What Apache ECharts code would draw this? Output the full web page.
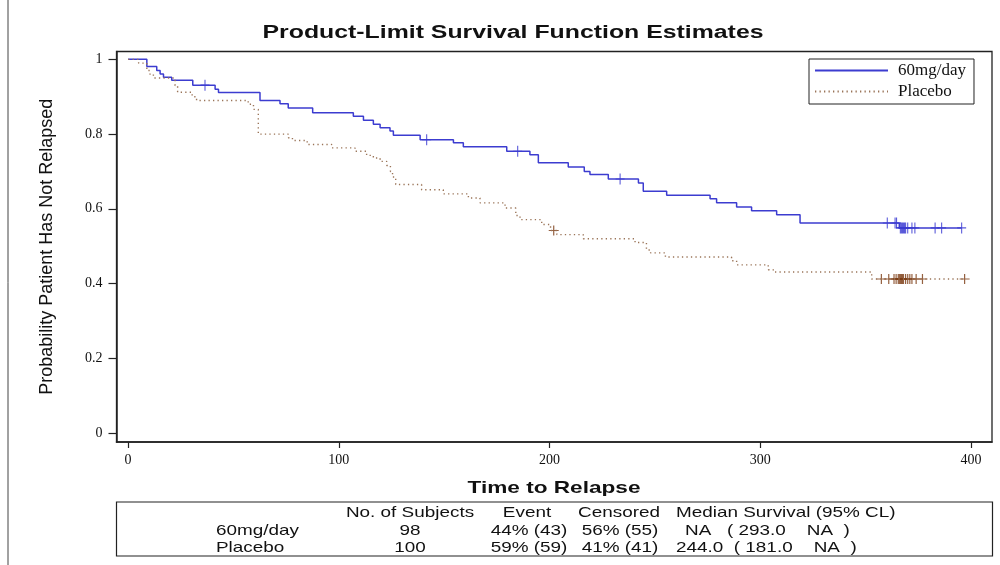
<!DOCTYPE html>
<html>
<head>
<meta charset="utf-8">
<script src="https://cdn.jsdelivr.net/npm/echarts@6/dist/echarts.min.js"></script>
<style>
html,body{margin:0;padding:0;background:#fff;}
#chart{width:1000px;height:565px;}
</style>
</head>
<body>
<div id="chart"></div>
<script>
// ---- data ----
const groupNames = ['60mg/day', 'Placebo'];
// 60mg/day step curve (time, survival after event)
const trtTime = [0, 8.9, 13.6, 15.2, 16.8, 20.7, 30.7, 41.3, 42.9, 62.6, 72.1, 76.0, 87.6, 106.9, 111.7, 116.4, 119.6, 124.3, 125.9, 138.6, 154.4, 159.1, 179.7, 190.7, 194.7, 208.9, 216.5, 219.2, 227.9, 242.2, 244.5, 255.6, 276.2, 279.3, 288.8, 295.9, 307.8, 318.9, 366.0, 395.6];
const trtSurv = [1, 0.981, 0.970, 0.961, 0.952, 0.944, 0.931, 0.920, 0.911, 0.890, 0.881, 0.870, 0.857, 0.848, 0.837, 0.826, 0.817, 0.808, 0.797, 0.785, 0.777, 0.766, 0.754, 0.745, 0.723, 0.712, 0.700, 0.692, 0.680, 0.669, 0.647, 0.636, 0.627, 0.616, 0.605, 0.595, 0.584, 0.562, 0.549, 0.549];
// 60mg/day censored observations
const trtCensTime = [36.5, 141.7, 184.9, 233.5, 360.3, 364.0, 364.7, 366.5, 367.0, 367.5, 368.0, 368.5, 369.0, 370.0, 372.0, 373.4, 383.0, 386.1, 395.6];
const trtCensSurv = [0.931, 0.785, 0.754, 0.680, 0.562, 0.562, 0.562, 0.549, 0.549, 0.549, 0.549, 0.549, 0.549, 0.549, 0.549, 0.549, 0.549, 0.549, 0.549];
// Placebo step curve
const pboTime = [0, 5.0, 8.9, 10.4, 12.0, 22.3, 23.5, 30.4, 32.5, 57.0, 59.5, 61.8, 76.0, 78.0, 85.0, 96.6, 107.7, 113.2, 116.4, 119.6, 122.7, 124.5, 125.5, 127.0, 139.3, 149.6, 161.5, 167.0, 178.9, 184.0, 186.0, 196.3, 200.5, 203.5, 216.0, 240.6, 246.0, 248.0, 255.0, 286.4, 288.8, 303.8, 306.2, 352.9, 397.0];
const pboSurv = [1, 0.990, 0.970, 0.960, 0.950, 0.930, 0.912, 0.900, 0.890, 0.880, 0.866, 0.800, 0.790, 0.783, 0.772, 0.763, 0.754, 0.743, 0.736, 0.727, 0.716, 0.700, 0.685, 0.665, 0.651, 0.640, 0.629, 0.616, 0.602, 0.582, 0.571, 0.558, 0.542, 0.531, 0.520, 0.510, 0.490, 0.482, 0.471, 0.461, 0.450, 0.437, 0.431, 0.412, 0.412];
// Placebo censored observations
const pboCensTime = [202.0, 357.5, 361.0, 363.5, 364.5, 365.5, 366.0, 366.5, 367.0, 367.5, 368.0, 369.0, 370.0, 371.0, 372.0, 374.0, 377.0, 397.0];
const pboCensSurv = [0.542, 0.412, 0.412, 0.412, 0.412, 0.412, 0.412, 0.412, 0.412, 0.412, 0.412, 0.412, 0.412, 0.412, 0.412, 0.412, 0.412, 0.412];
// axis ticks
const xTicks = [0, 100, 200, 300, 400];
const yTicks = [0, 0.2, 0.4, 0.6, 0.8, 1];
// text
const chartTitle = 'Product-Limit Survival Function Estimates';
const xTitle = 'Time to Relapse';
const yTitle = 'Probability Patient Has Not Relapsed';
// summary table
const tableHeader = ['No. of Subjects', 'Event', 'Censored', 'Median Survival (95% CL)'];
const tableRowLabels = ['60mg/day', 'Placebo'];
const tableSubjects = ['98', '100'];
const tableEvent = ['44% (43)', '59% (59)'];
const tableCensored = ['56% (55)', '41% (41)'];
const tableMedian = ['NA   ( 293.0    NA  )', '244.0  ( 181.0    NA  )'];

const pairs = (a, b) => a.map((v, i) => [v, b[i]]);
const plusPath = 'path://M-0.12,-1 L0.12,-1 L0.12,-0.1 L1,-0.1 L1,0.1 L0.12,0.1 L0.12,1 L-0.12,1 L-0.12,0.1 L-1,0.1 L-1,-0.1 L-0.12,-0.1 Z';

const chart = echarts.init(document.getElementById('chart'), null, {renderer: 'canvas'});

const sans = 'Liberation Sans, Arial, sans-serif';
const serif = 'Liberation Serif, Times New Roman, serif';

function txt(x, y, s, font, align, sx) {
  return {type: 'text', x: x, y: y, scaleX: sx || 1,
    style: {text: s, fill: '#111', font: font, textAlign: align || 'left', textVerticalAlign: 'middle'}};
}

const graphics = [
  {type: 'line', shape: {x1: 8, y1: 0, x2: 8, y2: 565}, style: {stroke: '#444', lineWidth: 1}},
  txt(513, 33, chartTitle, 'bold 18px ' + sans, 'center', 1.38),
  txt(554, 488, xTitle, 'bold 17px ' + sans, 'center', 1.33),
  {type: 'rect', shape: {x: 116.5, y: 502, width: 876, height: 54}, style: {fill: 'none', stroke: '#222', lineWidth: 1.2}}
];
const tFont = '15px ' + sans;
const tScale = 1.26;
const headX = [410, 527, 619, 676];
const colAlign = ['center', 'center', 'center', 'left'];
const rowY = [513, 531, 548];
tableHeader.forEach((t, i) => graphics.push(txt(headX[i], rowY[0], t, tFont, colAlign[i], tScale)));
tableRowLabels.forEach((lab, r) => {
  const y = rowY[r + 1];
  graphics.push(txt(216, y, lab, tFont, 'left', tScale));
  const cells = [tableSubjects[r], tableEvent[r], tableCensored[r], tableMedian[r]];
  const xs = [410, 529, 620, r === 0 ? 685 : 676];
  cells.forEach((c, i) => graphics.push(txt(xs[i], y, c, tFont, colAlign[i], tScale)));
});

const option = {
  animation: false,
  backgroundColor: '#fff',
  legend: {
    data: groupNames,
    orient: 'vertical',
    left: 809, top: 59,
    itemWidth: 73, itemHeight: 14, itemGap: 4,
    padding: [3, 8, 4, 5],
    borderColor: '#222', borderWidth: 1,
    itemStyle: {opacity: 0},
    textStyle: {fontFamily: serif, fontSize: 17, color: '#111', padding: [0, 0, 0, 5]}
  },
  grid: {
    left: 116.5, right: 8, top: 51.5, bottom: 123,
    show: true, borderColor: '#222', borderWidth: 1.3, backgroundColor: '#fff'
  },
  xAxis: {
    type: 'value', min: -5.5, max: 410,
    axisLine: {show: true, onZero: false, lineStyle: {color: '#222', width: 1.5}},
    axisTick: {show: true, length: 6, inside: false, customValues: xTicks, lineStyle: {color: '#222', width: 1.2}},
    axisLabel: {customValues: xTicks, margin: 11, fontFamily: serif, fontSize: 14, color: '#111'},
    splitLine: {show: false}
  },
  yAxis: {
    type: 'value', min: -0.024, max: 1.021,
    name: yTitle, nameLocation: 'middle', nameGap: 60,
    nameTextStyle: {fontFamily: sans, fontSize: 18, color: '#111'},
    axisLine: {show: true, onZero: false, lineStyle: {color: '#222', width: 1.5}},
    axisTick: {show: true, length: 8, inside: false, customValues: yTicks, lineStyle: {color: '#222', width: 1.2}},
    axisLabel: {customValues: yTicks, margin: 14, fontFamily: serif, fontSize: 14, color: '#111'},
    splitLine: {show: false}
  },
  series: [
    {
      name: groupNames[0], type: 'line', step: 'end', symbol: 'none',
      data: pairs(trtTime, trtSurv),
      lineStyle: {color: '#3c3cd0', width: 1.5},
      itemStyle: {color: '#3c3cd0'}
    },
    {
      name: groupNames[1], type: 'line', step: 'end', symbol: 'none',
      data: pairs(pboTime, pboSurv),
      lineStyle: {color: '#9a7458', width: 1.4, type: [1.3, 3.2]},
      itemStyle: {color: '#9a7458'}
    },
    {
      name: 'trt-censored', type: 'scatter', symbol: plusPath, symbolSize: [9, 11],
      data: pairs(trtCensTime, trtCensSurv),
      itemStyle: {color: '#2f2fd0'}
    },
    {
      name: 'pbo-censored', type: 'scatter', symbol: plusPath, symbolSize: [10, 10],
      data: pairs(pboCensTime, pboCensSurv),
      itemStyle: {color: '#7a3a12'}
    }
  ],
  graphic: graphics
};
chart.setOption(option);
</script>
</body>
</html>
